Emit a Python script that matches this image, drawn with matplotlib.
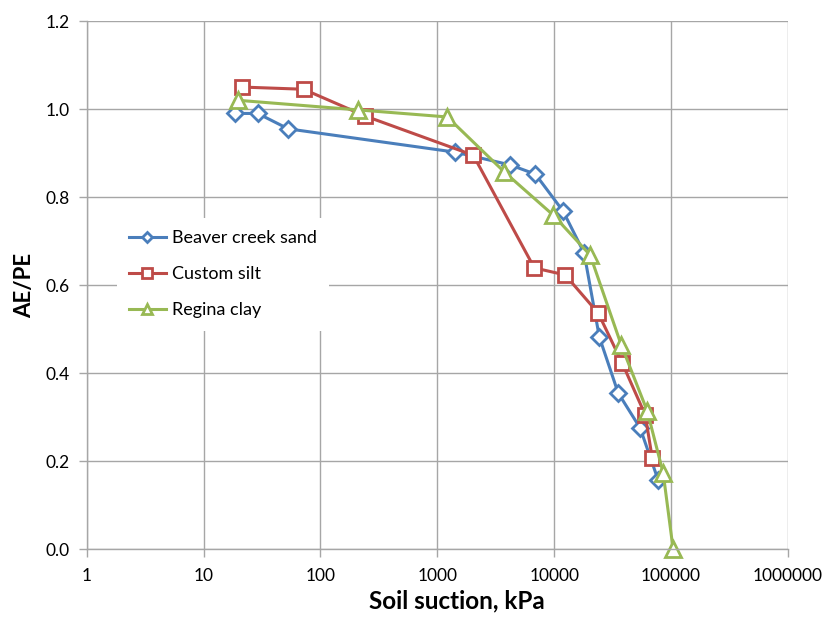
import numpy as np
import matplotlib.pyplot as plt
from matplotlib.ticker import FixedLocator, FixedFormatter

plt.rcParams['font.family'] = ['Lato', 'DejaVu Sans']

# AE/PE vs soil suction for three soils
sand_x = [18.4, 29, 53, 1425, 4200, 6900, 11900, 18000, 24300, 35200, 54300, 77400]
sand_y = [0.99, 0.99, 0.955, 0.902, 0.873, 0.852, 0.768, 0.673, 0.482, 0.355, 0.275, 0.157]

silt_x = [21.1, 71.6, 242, 2030, 6750, 12400, 23800, 38100, 60000, 68800]
silt_y = [1.05, 1.045, 0.984, 0.895, 0.639, 0.623, 0.536, 0.423, 0.305, 0.208]

clay_x = [19.5, 211, 1217, 3740, 9800, 20300, 37400, 62400, 85500, 104000]
clay_y = [1.02, 0.998, 0.982, 0.857, 0.759, 0.668, 0.464, 0.314, 0.173, 0.0]

x_ticks = [1, 10, 100, 1000, 10000, 100000, 1000000]
y_ticks = [0.0, 0.2, 0.4, 0.6, 0.8, 1.0, 1.2]

fig = plt.figure(figsize=(8.26, 6.19), dpi=100)
ax = fig.add_axes([0.105, 0.113, 0.849, 0.853])

grid_c = '#a6a6a6'
ax.set_xscale('log')
ax.set_xlim(1, 1e6)
ax.set_ylim(0, 1.2)
ax.xaxis.set_major_locator(FixedLocator(x_ticks))
ax.xaxis.set_major_formatter(FixedFormatter([str(t) for t in x_ticks]))
ax.xaxis.set_minor_locator(FixedLocator([]))
ax.set_yticks(y_ticks)
ax.set_yticklabels(['%.1f' % t for t in y_ticks])
ax.grid(True, color=grid_c, lw=1)
ax.set_axisbelow(True)
for s in ['top', 'right']:
    ax.spines[s].set_visible(False)
for s in ['left', 'bottom']:
    ax.spines[s].set_color(grid_c)
    ax.spines[s].set_linewidth(1)
ax.tick_params(axis='both', colors=grid_c, labelcolor='black', labelsize=12.5,
               length=6, width=1, direction='out')
ax.tick_params(axis='x', pad=8)
ax.tick_params(axis='y', pad=6)

kw = dict(lw=2.2, markerfacecolor='white', markeredgewidth=2, clip_on=False)
ax.plot(sand_x, sand_y, color='#4a7ebb', marker='D', ms=8, label='Beaver creek sand', **kw)
ax.plot(silt_x, silt_y, color='#be4b48', marker='s', ms=10, label='Custom silt', **kw)
ax.plot(clay_x, clay_y, color='#98b954', marker='^', ms=11, label='Regina clay', **kw)

ax.set_xlabel('Soil suction, kPa', fontsize=17.5, fontweight='bold')
ax.xaxis.set_label_coords(0.528, -0.077)
ax.set_ylabel('AE/PE', fontsize=16, fontweight='bold', labelpad=8)

leg = ax.legend(loc='upper left', bbox_to_anchor=(0.03, 0.645), fontsize=13,
                frameon=True, framealpha=1, edgecolor='white', fancybox=False,
                markerscale=0.7, handlelength=2.0, handletextpad=0.35,
                labelspacing=1.1, borderpad=0.7)
leg.get_frame().set_linewidth(0)

fig.savefig('out.png', dpi=100)
